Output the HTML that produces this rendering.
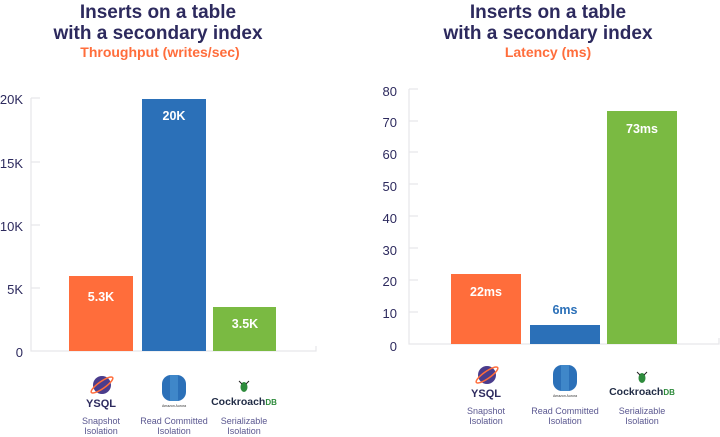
<!DOCTYPE html>
<html><head><meta charset="utf-8"><style>
html,body{margin:0;padding:0;background:#fff;}
svg{display:block;font-family:"Liberation Sans",sans-serif;}
</style></head><body>
<svg width="720" height="437" viewBox="0 0 720 437" xmlns="http://www.w3.org/2000/svg">
<!-- Left chart -->
<g text-anchor="middle" font-weight="bold">
<text x="158" y="18" font-size="19" fill="#2d2a5e">Inserts on a table</text>
<text x="158" y="39" font-size="19" fill="#2d2a5e">with a secondary index</text>
<text x="160" y="57" font-size="14" fill="#ff6d3b">Throughput (writes/sec)</text>
</g>
<g stroke="#e6e6ea" stroke-width="1.2" fill="none">
<path d="M31 98 V351 H316 V346"/>
<path d="M31 98 H40 M31 162 H40 M31 225 H40 M31 288 H40"/>
</g>
<g font-size="13" fill="#2d2a5e" text-anchor="end">
<text x="23" y="104">20K</text><text x="23" y="168">15K</text><text x="23" y="231">10K</text><text x="23" y="294">5K</text><text x="23" y="357">0</text>
</g>
<rect x="69" y="276" width="64" height="75" fill="#ff6d3b"/>
<rect x="142" y="99" width="64" height="252" fill="#2b70b8"/>
<rect x="213" y="307" width="63" height="44" fill="#7aba42"/>
<g font-size="12.5" font-weight="bold" fill="#fff" text-anchor="middle">
<text x="101" y="301">5.3K</text><text x="174" y="120">20K</text><text x="245" y="328">3.5K</text>
</g>
<!-- Left logos -->
<g>
<circle cx="102" cy="385" r="9" fill="#4a3c8c"/>
<ellipse cx="102" cy="385" rx="13" ry="3.5" fill="none" stroke="#ff6d3b" stroke-width="1.5" transform="rotate(-35 102 385)"/>
<text x="101" y="407" font-size="11" font-weight="bold" fill="#2d2a5e" text-anchor="middle">YSQL</text>
<rect x="162" y="375" width="24" height="26" rx="9" fill="#2b70b8"/>
<rect x="170" y="375" width="8" height="26" fill="#3f87c9"/>
<text x="174" y="407" font-size="3.5" fill="#333" text-anchor="middle">Amazon Aurora</text>
<ellipse cx="244" cy="387" rx="3.5" ry="5" fill="#2e8b3c"/>
<path d="M239 381 L242 384 M249 381 L246 384" stroke="#222" stroke-width="1"/>
<text x="244" y="405" font-size="10.5" font-weight="bold" fill="#1f2a44" text-anchor="middle">Cockroach<tspan fill="#2e8b3c" font-size="8">DB</tspan></text>
</g>
<g font-size="9" fill="#5a5790" text-anchor="middle">
<text x="101" y="424">Snapshot</text><text x="101" y="434">Isolation</text>
<text x="174" y="424">Read Committed</text><text x="174" y="434">Isolation</text>
<text x="244" y="424">Serializable</text><text x="244" y="434">Isolation</text>
</g>

<!-- Right chart -->
<g text-anchor="middle" font-weight="bold">
<text x="548" y="18" font-size="19" fill="#2d2a5e">Inserts on a table</text>
<text x="548" y="39" font-size="19" fill="#2d2a5e">with a secondary index</text>
<text x="548" y="57" font-size="14" fill="#ff6d3b">Latency (ms)</text>
</g>
<g stroke="#e6e6ea" stroke-width="1.2" fill="none">
<path d="M409 89 V344 H719 V338"/>
<path d="M409 89 H418 M409 121 H418 M409 152 H418 M409 184 H418 M409 216 H418 M409 248 H418 M409 280 H418 M409 312 H418"/>
</g>
<g font-size="13" fill="#2d2a5e" text-anchor="end">
<text x="397" y="96">80</text><text x="397" y="127">70</text><text x="397" y="159">60</text><text x="397" y="191">50</text><text x="397" y="223">40</text><text x="397" y="255">30</text><text x="397" y="286">20</text><text x="397" y="318">10</text><text x="397" y="351">0</text>
</g>
<rect x="451" y="274" width="70" height="70" fill="#ff6d3b"/>
<rect x="530" y="325" width="70" height="19" fill="#2b70b8"/>
<rect x="607" y="111" width="70" height="233" fill="#7aba42"/>
<g font-size="12.5" font-weight="bold" text-anchor="middle">
<text x="486" y="296" fill="#fff">22ms</text><text x="565" y="314" fill="#2b70b8">6ms</text><text x="642" y="133" fill="#fff">73ms</text>
</g>
<g>
<circle cx="487" cy="375" r="9" fill="#4a3c8c"/>
<ellipse cx="487" cy="375" rx="13" ry="3.5" fill="none" stroke="#ff6d3b" stroke-width="1.5" transform="rotate(-35 487 375)"/>
<text x="486" y="397" font-size="11" font-weight="bold" fill="#2d2a5e" text-anchor="middle">YSQL</text>
<rect x="553" y="365" width="24" height="26" rx="9" fill="#2b70b8"/>
<rect x="561" y="365" width="8" height="26" fill="#3f87c9"/>
<text x="565" y="397" font-size="3.5" fill="#333" text-anchor="middle">Amazon Aurora</text>
<ellipse cx="642" cy="378" rx="3.5" ry="5" fill="#2e8b3c"/>
<path d="M637 372 L640 375 M647 372 L644 375" stroke="#222" stroke-width="1"/>
<text x="642" y="395" font-size="10.5" font-weight="bold" fill="#1f2a44" text-anchor="middle">Cockroach<tspan fill="#2e8b3c" font-size="8">DB</tspan></text>
</g>
<g font-size="9" fill="#5a5790" text-anchor="middle">
<text x="486" y="414">Snapshot</text><text x="486" y="424">Isolation</text>
<text x="565" y="414">Read Committed</text><text x="565" y="424">Isolation</text>
<text x="642" y="414">Serializable</text><text x="642" y="424">Isolation</text>
</g>
</svg>
</body></html>
